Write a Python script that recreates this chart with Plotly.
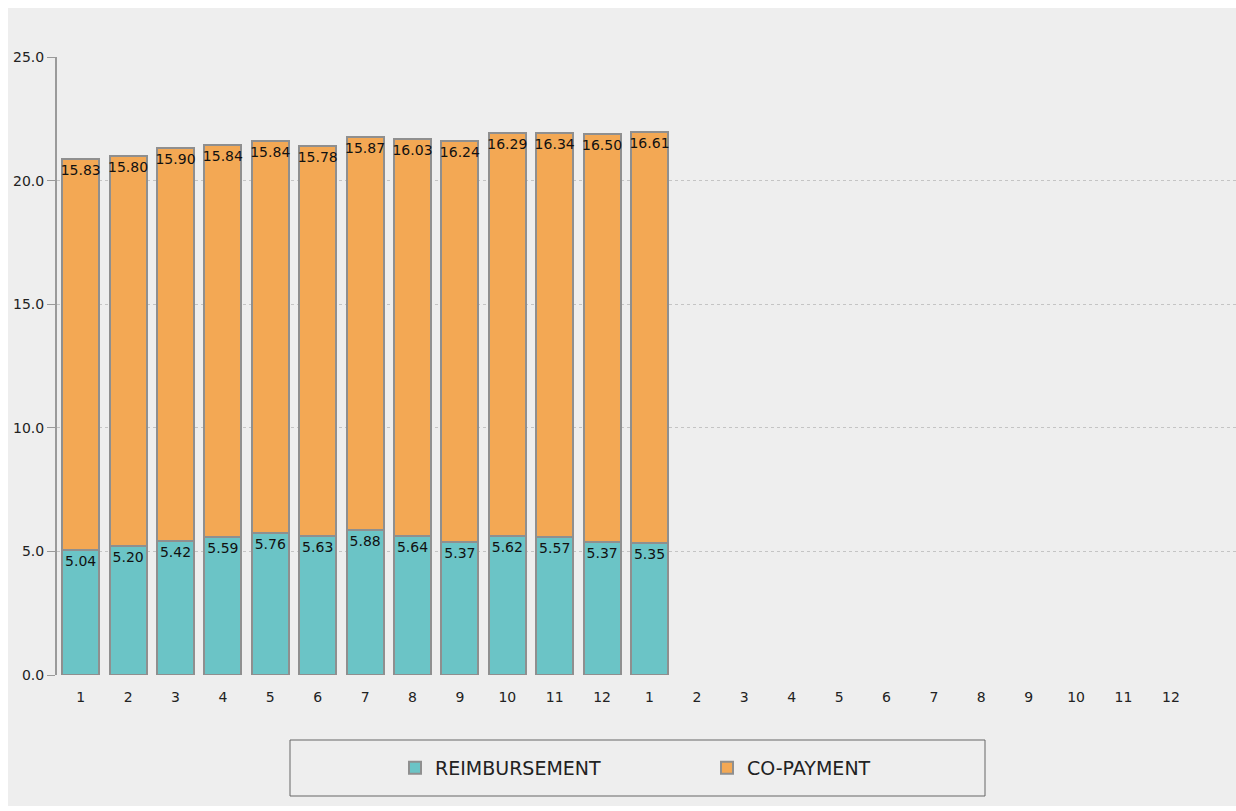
import plotly.graph_objects as go

categories = ["1", "2", "3", "4", "5", "6", "7", "8", "9", "10", "11", "12",
              "1", "2", "3", "4", "5", "6", "7", "8", "9", "10", "11", "12"]
reimbursement = [5.04, 5.20, 5.42, 5.59, 5.76, 5.63, 5.88, 5.64, 5.37, 5.62, 5.57, 5.37, 5.35]
co_payment = [15.83, 15.80, 15.90, 15.84, 15.84, 15.78, 15.87, 16.03, 16.24, 16.29, 16.34, 16.50, 16.61]
y_ticks = [0, 5, 10, 15, 20, 25]

positions = list(range(len(categories)))
data_pos = positions[:len(reimbursement)]

FONT = "DejaVu Sans"
W, H = 1236, 811
ML, MR, MT, MB = 57, 0, 57, 136
PW, PH = W - ML - MR, H - MT - MB

def px_x(p):
    return (p - ML) / PW

def px_y(p):
    return (H - MB - p) / PH

def bar_trace(values, name, color):
    return go.Bar(
        x=data_pos, y=values, name=name,
        marker=dict(color=color, line=dict(color="#8f8f8f", width=2)),
        width=0.78,
        text=[f"{v:.2f}" for v in values],
        textposition="inside", insidetextanchor="end", textangle=0, constraintext="none",
        textfont=dict(family=FONT, size=14, color="#111111"),
        hoverinfo="skip",
    )

fig = go.Figure()
fig.add_trace(bar_trace(reimbursement, "REIMBURSEMENT", "#6bc4c6"))
fig.add_trace(bar_trace(co_payment, "CO-PAYMENT", "#f3a854"))

fig.update_layout(
    width=W, height=H,
    barmode="stack",
    margin=dict(l=ML, r=MR, t=MT, b=MB),
    paper_bgcolor="white",
    plot_bgcolor="rgba(0,0,0,0)",
    font=dict(family=FONT, size=14, color="#222222"),
    showlegend=True,
    legend=dict(
        orientation="h", x=px_x(395), xanchor="left", y=px_y(768), yanchor="middle",
        font=dict(family=FONT, size=19, color="#222222"),
        entrywidth=267, entrywidthmode="pixels",
        bgcolor="rgba(0,0,0,0)", traceorder="normal",
    ),
    xaxis=dict(
        range=[-0.5, -0.5 + PW / 47.4],
        tickmode="array", tickvals=positions, ticktext=categories,
        showgrid=False, zeroline=False, showline=False, ticks="",
        ticklabelstandoff=12,
        tickfont=dict(family=FONT, size=14, color="#222222"),
    ),
    yaxis=dict(
        range=[0, 25], tickmode="array", tickvals=y_ticks,
        ticktext=[f"{v:.1f}" for v in y_ticks],
        showgrid=True, gridcolor="#c4c4c4", griddash="dot", gridwidth=1,
        zeroline=False, showline=True, linecolor="#9a9a9a", linewidth=2,
        ticks="outside", ticklen=8, tickcolor="#9a9a9a", tickwidth=1,
        tickfont=dict(family=FONT, size=14, color="#222222"),
    ),
    shapes=[
        dict(type="rect", xref="paper", yref="paper", layer="below",
             x0=px_x(8), x1=px_x(1236), y0=px_y(806), y1=px_y(8),
             fillcolor="#eeeeee", line=dict(width=0)),
        dict(type="rect", xref="paper", yref="paper", layer="above",
             x0=px_x(290), x1=px_x(985), y0=px_y(796), y1=px_y(740),
             fillcolor="rgba(0,0,0,0)", line=dict(color="#666666", width=1)),
    ],
)

fig.write_html("out.html")
